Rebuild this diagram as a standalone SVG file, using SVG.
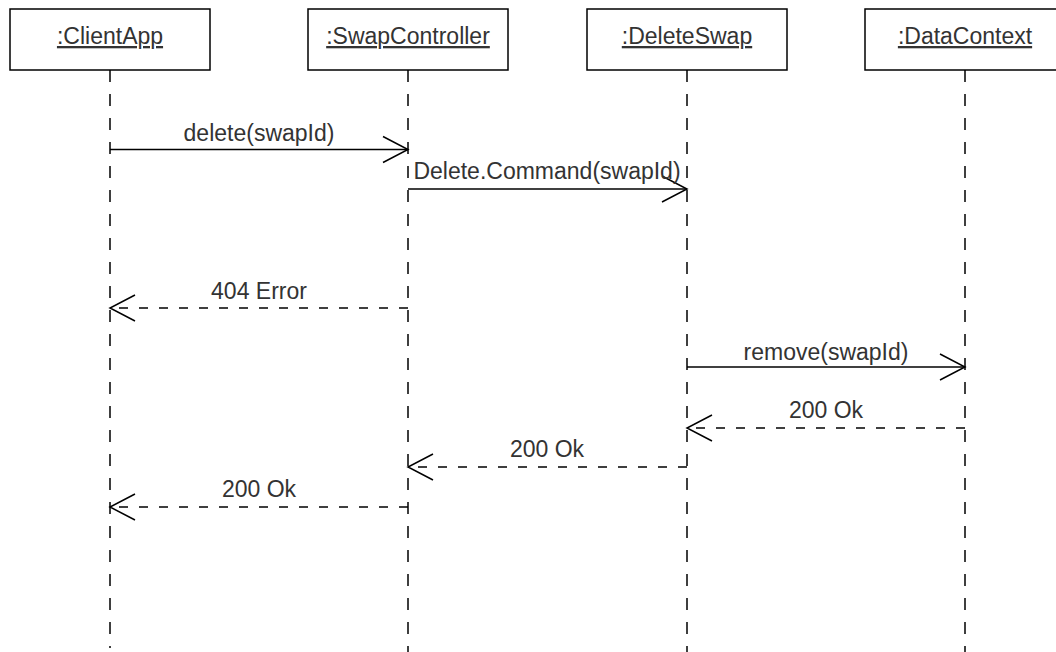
<svg xmlns="http://www.w3.org/2000/svg" width="1056" height="652" viewBox="0 0 1056 652">
<style>
.box{fill:#fff;stroke:#000;stroke-width:1.5}
.life{fill:none;stroke:#000;stroke-width:1.5;stroke-dasharray:12 12}
.title{font-family:"Liberation Sans",Arial,sans-serif;font-size:23px;fill:#333;text-anchor:middle;text-decoration:underline}
.lbl{font-family:"Liberation Sans",Arial,sans-serif;font-size:23px;fill:#333;text-anchor:middle}
.call{fill:none;stroke:#000;stroke-width:1.5;marker-end:url(#open)}
.ret{fill:none;stroke:#000;stroke-width:1.5;stroke-dasharray:9 11;marker-end:url(#open)}
</style>
<defs>
<marker id="open" markerUnits="userSpaceOnUse" markerWidth="40" markerHeight="40" viewBox="-30 -20 40 40" refX="0" refY="0" orient="auto">
<path d="M-25,-13 L0,0 L-25,13" fill="none" stroke="#000" stroke-width="1.5"/>
</marker>
</defs>
<rect width="1056" height="652" fill="#fff"/>
<g id="clientapp">
<path class="life" d="M110,70 V648"/>
<rect class="box" x="10" y="9" width="200" height="61"/>
<text class="title" x="110" y="44">:ClientApp</text>
</g>
<g id="swapcontroller">
<path class="life" d="M408,70 V660"/>
<rect class="box" x="308" y="9" width="200" height="61"/>
<text class="title" x="408" y="44">:SwapController</text>
</g>
<g id="deleteswap">
<path class="life" d="M687,70 V660"/>
<rect class="box" x="587" y="9" width="200" height="61"/>
<text class="title" x="687" y="44">:DeleteSwap</text>
</g>
<g id="datacontext">
<path class="life" d="M965,70 V660"/>
<rect class="box" x="865" y="9" width="200" height="61"/>
<text class="title" x="965" y="44">:DataContext</text>
</g>
<g id="connectors">
<path class="call" d="M110,149.5 H408"/>
<text class="lbl" x="259" y="141">delete(swapId)</text>
<path class="call" d="M408,189 H687"/>
<text class="lbl" x="547" y="179">Delete.Command(swapId)</text>
<path class="ret" d="M408,308 H110"/>
<text class="lbl" x="259" y="299">404 Error</text>
<path class="call" d="M687,367 H965"/>
<text class="lbl" x="826" y="360">remove(swapId)</text>
<path class="ret" d="M965,428 H687"/>
<text class="lbl" x="826" y="418">200 Ok</text>
<path class="ret" d="M687,467 H408"/>
<text class="lbl" x="547" y="457">200 Ok</text>
<path class="ret" d="M408,507 H110"/>
<text class="lbl" x="259" y="497">200 Ok</text>
</g>
</svg>
